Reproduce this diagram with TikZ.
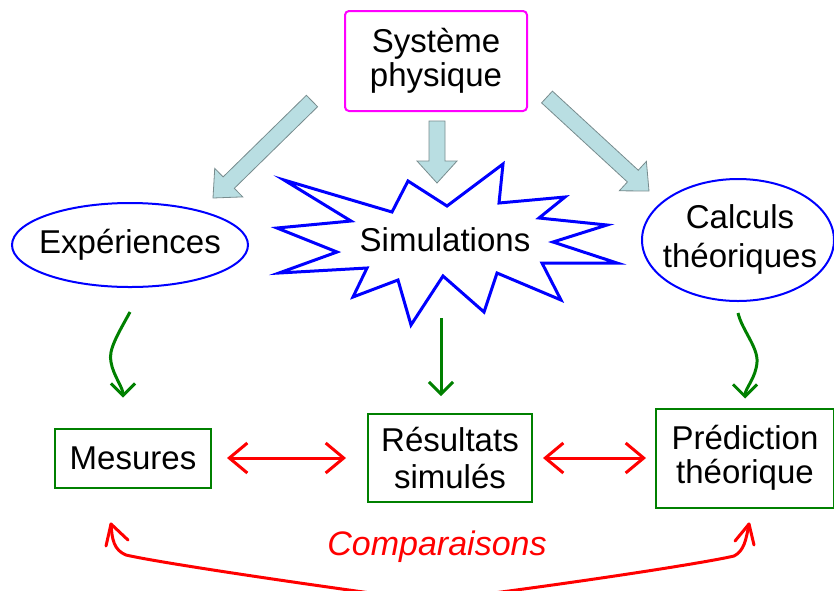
\documentclass[tikz,border=0pt]{standalone}
\usepackage{fontspec}
\setmainfont{Liberation Sans}
\usetikzlibrary{calc,arrows.meta}
\definecolor{mygreen}{RGB}{0,128,0}
\definecolor{mymagenta}{RGB}{255,0,255}
\definecolor{myblue}{RGB}{0,0,255}
\definecolor{myred}{RGB}{255,0,0}
\definecolor{fatfill}{RGB}{185,222,226}
\definecolor{fatline}{RGB}{120,140,142}
\newcommand\fatarrow[2]{%
  \coordinate (fa-n) at ($(#2)!22pt!(#1)$);
  \draw[fatarrow] ($(#1)!8pt!90:(#2)$) -- ($(fa-n)!8pt!-90:(#1)$) -- ($(fa-n)!20pt!-90:(#1)$) -- (#2) -- ($(fa-n)!20pt!90:(#1)$) -- ($(fa-n)!8pt!90:(#1)$) -- ($(#1)!8pt!-90:(#2)$) -- cycle;}
\begin{document}
\begin{tikzpicture}[x=1pt,y=-1pt,
  txt/.style={font=\fontsize{33}{34}\selectfont, align=center, inner sep=0pt},
  fatarrow/.style={fill=fatfill, draw=fatline, line width=0.8pt},
  greenbox/.style={txt, draw=mygreen, line width=2pt},
  greenarrow/.style={draw=mygreen, line width=3pt, -{Straight Barb[length=12pt,width=24pt,line width=3pt]}},
  redarrow/.style={draw=myred, line width=3pt, {Straight Barb[length=18pt,width=30pt,line width=3pt]}-{Straight Barb[length=18pt,width=30pt,line width=3pt]}},
  redcurve/.style={draw=myred, line width=3pt, line cap=round}
]
\useasboundingbox (0,0) rectangle (834,590);
\clip (0,0) rectangle (834,590);

% top box
\node[txt, draw=mymagenta, line width=2pt, rounded corners=4pt, minimum width=182pt, minimum height=100pt] (sys) at (436,61) {Système\\physique};

% ellipses
\draw[myblue, line width=2pt] (130,245) ellipse [x radius=118, y radius=42];
\node[txt] (exp) at (130,245) {Expériences};
\coordinate (exps) at (130,287);
\draw[myblue, line width=2pt] (738,240) ellipse [x radius=96, y radius=61];
\node[txt, font=\fontsize{33}{39}\selectfont] (calc) at (740,239) {Calculs\\théoriques};
\coordinate (calcs) at (738,301);

% starburst
\draw[myblue, line width=3pt, line join=miter, fill=white]
  (408,181) -- (447,206) -- (503,164) -- (499,203) -- (565,197) -- (539,218)
  -- (607,225) -- (553,242) -- (617,263) -- (542,263) -- (561,300) -- (497,273)
  -- (484,312) -- (443,276) -- (411,325) -- (398,280) -- (353,297) -- (367,268)
  -- (279,273) -- (337,252) -- (277,228) -- (351,221) -- (284,180) -- (392,212) -- cycle;
\node[txt] (sim) at (445,240) {Simulations};
\coordinate (sims) at (441,318);

% fat arrows
\coordinate (la1) at (312,101); \coordinate (la2) at (213,198);
\coordinate (ca1) at (437,121); \coordinate (ca2) at (437,183);
\coordinate (ra1) at (547,97);  \coordinate (ra2) at (649,191);
\fatarrow{la1}{la2}
\fatarrow{ca1}{ca2}
\fatarrow{ra1}{ra2}

% bottom boxes
\node[greenbox, minimum width=156pt, minimum height=59pt] (mes) at (133,458) {Mesures};
\node[greenbox, font=\fontsize{33}{37}\selectfont, minimum width=164pt, minimum height=88pt] (res) at (450,458) {Résultats\\simulés};
\node[greenbox, minimum width=178pt, minimum height=99pt] (pred) at (745,458) {Prédiction\\théorique};

% green arrows
\draw[greenarrow] (exps) ++(0,25) .. controls +(-12,22) and +(-3,-12) .. (111,362) .. controls +(2,13) and +(0,-10) .. ($(mes.north)+(-10,-30)$);
\draw[greenarrow] (sims) -- ($(res.north -| sims)+(0,-17)$);
\draw[greenarrow] (calcs) ++(0,12) .. controls +(4,17) and +(1,-15) .. (757,362) .. controls +(-1,16) and +(0,-10) .. ($(pred.north)+(0,-9)$);

% red arrows
\draw[redarrow, shorten <=15pt, shorten >=21pt] (mes.east) -- (res.west);
\draw[redarrow, shorten <=10pt, shorten >=9pt] (res.east) -- (pred.west);

% comparisons
\node[txt, text=myred, font=\fontsize{34}{36}\selectfont\itshape] (comp) at (437,547) {Comparaisons};
\coordinate (bot) at (430,601);
\coordinate (lt) at (111,524);
\coordinate (rt) at (749,524);
\draw[redcurve] (bot) .. controls (330,588) and (160,563) .. (126,555) .. controls (114,550) and (112,540) .. (lt);
\draw[redcurve] (bot) .. controls (540,588) and (700,564) .. (734,556) .. controls (744,551) and (746,540) .. (rt);
\draw[redcurve] (lt) -- +(-5,22);
\draw[redcurve] (lt) -- +(17,16);
\draw[redcurve] (rt) -- +(5,21);
\draw[redcurve] (rt) -- +(-14,17);
\end{tikzpicture}
\end{document}
